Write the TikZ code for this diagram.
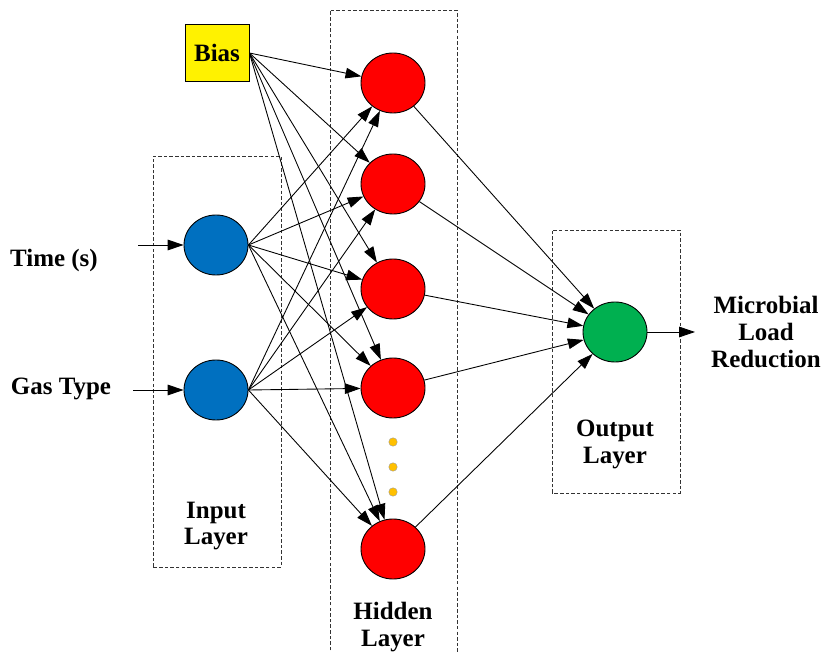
\documentclass[tikz,border=0pt]{standalone}
\usepackage{fontspec}
\setmainfont{Liberation Serif}
\usetikzlibrary{arrows.meta}
\tikzset{
  link/.style={
    line width=0.5pt,
    -{Triangle[length=9pt,width=6pt]}
  },
  neuron/.style={ellipse, draw=black, line width=0.5pt, minimum width=1.28cm, minimum height=1.2cm, inner sep=0pt},
  neuron-in/.style={neuron, fill=inblue},
  neuron-hid/.style={neuron, fill=hidred},
  neuron-out/.style={neuron, fill=outgreen},
  bias-box/.style={rectangle, draw=black, line width=0.5pt, fill=yellow, minimum width=1.28cm, minimum height=1.14cm, font=\fontsize{14.2}{15.2}\selectfont\bfseries},
  layer-box/.style={draw=black!80, line width=0.5pt, dash pattern=on 2pt off 1.2pt},
  label-text/.style={align=center, font=\fontsize{14.2}{15.2}\selectfont\bfseries},
  dot-small/.style={circle, fill=dotorange, draw=black!40, line width=0.2pt, minimum size=0.17cm, inner sep=0pt}
}
\usetikzlibrary{shapes.geometric}
\definecolor{inblue}{RGB}{0,112,192}
\definecolor{hidred}{RGB}{255,0,0}
\definecolor{outgreen}{RGB}{0,176,80}
\definecolor{dotorange}{RGB}{255,192,0}

\begin{document}
\begin{tikzpicture}
  \useasboundingbox (0,0) rectangle (16.46,13.02);
  % Layer frames
  \draw[layer-box] (3.06,1.68) rectangle (5.62,9.9);
  \draw[layer-box] (6.6,-0.1) rectangle (9.14,12.82);
  \draw[layer-box] (11.04,3.16) rectangle (13.6,8.42);
  % Neurons
  \node[bias-box] (bias) at (4.34,11.96) {Bias};
  \node[neuron-in] (in1) at (4.32,8.12) {};
  \node[neuron-in] (in2) at (4.32,5.22) {};
  \node[neuron-hid] (h1) at (7.86,11.36) {};
  \node[neuron-hid] (h2) at (7.86,9.34) {};
  \node[neuron-hid] (h3) at (7.86,7.24) {};
  \node[neuron-hid] (h4) at (7.86,5.26) {};
  \node[neuron-hid] (h5) at (7.86,2.04) {};
  \node[neuron-out] (out) at (12.3,6.38) {};
  \node[dot-small] (d1) at (7.86,4.18) {};
  \node[dot-small] (d2) at (7.86,3.68) {};
  \node[dot-small] (d3) at (7.86,3.18) {};
  % Texts
  \node[label-text] (time) at (1.08,7.8) {Time (s)};
  \node[label-text] (gas) at (1.22,5.24) {Gas Type};
  \node[label-text] (inlab) at (4.32,2.5) {Input\\Layer};
  \node[label-text] (hidlab) at (7.86,0.48) {Hidden\\Layer};
  \node[label-text] (outlab) at (12.3,4.13) {Output\\Layer};
  \node[label-text] (result) at (15.32,6.38) {Microbial\\Load\\Reduction};
  % Inputs
  \coordinate (t0) at (2.76,8.12);
  \coordinate (g0) at (2.66,5.22);
  \coordinate (r0) at (13.9,6.38);
  \draw[link] (t0) -- (in1);
  \draw[link] (g0) -- (in2);
  % Connections
  \foreach \h in {h1,h2,h3,h4,h5} {
    \draw[link] (bias.east) -- (\h);
    \draw[link] (in1.east) -- (\h);
    \draw[link] (in2.east) -- (\h);
    \draw[link] (\h) -- (out);
  }
  \draw[link] (out) -- (r0);
\end{tikzpicture}
\end{document}
